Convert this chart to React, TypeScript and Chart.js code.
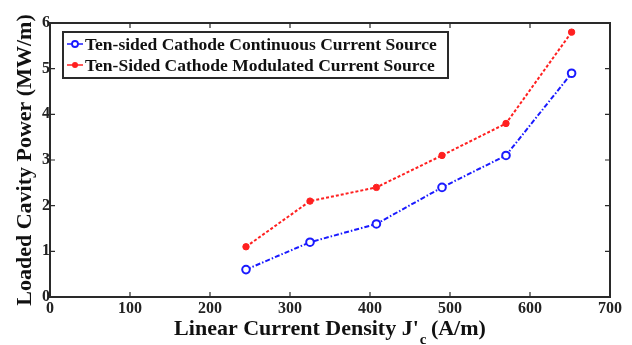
import React, { useEffect, useRef } from "react";
import { Chart, registerables } from "chart.js";

Chart.register(...registerables);

const currentDensity = [245, 325, 408, 490, 570, 652];
const continuousPower = [0.6, 1.2, 1.6, 2.4, 3.1, 4.9];
const modulatedPower = [1.1, 2.1, 2.4, 3.1, 3.8, 5.8];
const seriesNames = [
  "Ten-sided Cathode Continuous Current Source",
  "Ten-Sided Cathode Modulated Current Source",
];
const xTicks = [0, 100, 200, 300, 400, 500, 600, 700];
const yTicks = [0, 1, 2, 3, 4, 5, 6];
const yTitle = "Loaded Cavity Power (MW/m)";
const xTitleMain = "Linear Current Density J'";
const xTitleSub = "c";
const xTitleEnd = " (A/m)";

const SERIF = "'Liberation Serif', 'Times New Roman', serif";

const framePlugin = {
  id: "frame",
  afterDraw(chart: any) {
    const { ctx, chartArea: a, scales } = chart;
    const xs = scales.x;
    const ys = scales.y;
    ctx.save();
    ctx.strokeStyle = "#2a2a2a";
    ctx.lineWidth = 2;
    ctx.strokeRect(a.left, a.top, a.right - a.left, a.bottom - a.top);
    ctx.lineWidth = 1.2;
    const tl = 5;
    xTicks.forEach((v) => {
      const px = xs.getPixelForValue(v);
      ctx.beginPath();
      ctx.moveTo(px, a.bottom);
      ctx.lineTo(px, a.bottom - tl);
      ctx.moveTo(px, a.top);
      ctx.lineTo(px, a.top + tl);
      ctx.stroke();
    });
    yTicks.forEach((v) => {
      const py = ys.getPixelForValue(v);
      ctx.beginPath();
      ctx.moveTo(a.left, py);
      ctx.lineTo(a.left + tl, py);
      ctx.moveTo(a.right, py);
      ctx.lineTo(a.right - tl, py);
      ctx.stroke();
    });

    // x title with subscript
    ctx.fillStyle = "#111";
    ctx.textBaseline = "alphabetic";
    const big = `bold 22px ${SERIF}`;
    const small = `bold 15px ${SERIF}`;
    ctx.font = big;
    const w1 = ctx.measureText(xTitleMain).width;
    const w3 = ctx.measureText(xTitleEnd).width;
    ctx.font = small;
    const w2 = ctx.measureText(xTitleSub).width;
    const total = w1 + w2 + w3;
    const cx = (a.left + a.right) / 2;
    const x0 = cx - total / 2;
    const base = 335;
    ctx.textAlign = "left";
    ctx.font = big;
    ctx.fillText(xTitleMain, x0, base);
    ctx.font = small;
    ctx.fillText(xTitleSub, x0 + w1 + 1, base + 9);
    ctx.font = big;
    ctx.fillText(xTitleEnd, x0 + w1 + w2, base);

    // legend
    const lx = 63, ly = 32, lw = 385, lh = 46;
    ctx.fillStyle = "#fff";
    ctx.fillRect(lx, ly, lw, lh);
    ctx.strokeStyle = "#2a2a2a";
    ctx.lineWidth = 2;
    ctx.strokeRect(lx, ly, lw, lh);
    const colors = ["#1a1aff", "#ff2020"];
    const rows = [44, 65];
    ctx.font = `bold 17.5px ${SERIF}`;
    ctx.textBaseline = "middle";
    rows.forEach((ry, i) => {
      ctx.strokeStyle = colors[i];
      ctx.lineWidth = 1.5;
      ctx.beginPath();
      ctx.moveTo(67, ry);
      ctx.lineTo(83, ry);
      ctx.stroke();
      ctx.beginPath();
      ctx.arc(75, ry, 3, 0, Math.PI * 2);
      if (i === 0) {
        ctx.lineWidth = 1.8;
        ctx.fillStyle = "#fff";
        ctx.fill();
        ctx.stroke();
      } else {
        ctx.fillStyle = colors[i];
        ctx.fill();
      }
      ctx.fillStyle = "#111";
      ctx.fillText(seriesNames[i], 85, ry + 1);
    });
    ctx.restore();
  },
};

export default function App() {
  const ref = useRef<HTMLCanvasElement | null>(null);
  useEffect(() => {
    if (!ref.current) return;
    const chart = new Chart(ref.current, {
      type: "line",
      data: {
        datasets: [
          {
            label: seriesNames[0],
            data: currentDensity.map((x, i) => ({ x, y: continuousPower[i] })),
            borderColor: "#1a1aff",
            backgroundColor: "#ffffff",
            borderWidth: 2,
            borderDash: [5, 2, 1.5, 2],
            pointStyle: "circle",
            pointRadius: 3.8,
            pointBorderWidth: 2,
            pointBorderColor: "#1a1aff",
            pointBackgroundColor: "#ffffff",
            tension: 0,
          },
          {
            label: seriesNames[1],
            data: currentDensity.map((x, i) => ({ x, y: modulatedPower[i] })),
            borderColor: "#ff2020",
            backgroundColor: "#ff2020",
            borderWidth: 2,
            borderDash: [3, 2],
            pointStyle: "circle",
            pointRadius: 3.2,
            pointBorderWidth: 1,
            pointBorderColor: "#ff2020",
            pointBackgroundColor: "#ff2020",
            tension: 0,
          },
        ],
      },
      options: {
        animation: false,
        responsive: false,
        maintainAspectRatio: false,
        layout: { padding: { top: 23, right: 22, left: 0, bottom: 0 } },
        plugins: {
          legend: { display: false },
          tooltip: { enabled: false },
        },
        scales: {
          x: {
            type: "linear",
            min: 0,
            max: 700,
            grid: { display: false, drawTicks: false },
            border: { display: false },
            afterBuildTicks: (s: any) => {
              s.ticks = xTicks.map((v) => ({ value: v }));
            },
            afterFit: (s: any) => {
              s.height = 48;
            },
            ticks: {
              padding: 2,
              color: "#222",
              font: { family: SERIF, size: 16, weight: "bold" },
              maxRotation: 0,
            },
          },
          y: {
            type: "linear",
            min: 0,
            max: 6,
            grid: { display: false, drawTicks: false },
            border: { display: false },
            afterBuildTicks: (s: any) => {
              s.ticks = yTicks.map((v) => ({ value: v }));
            },
            afterFit: (s: any) => {
              s.width = 50;
            },
            title: {
              display: true,
              text: yTitle,
              color: "#111",
              font: { family: SERIF, size: 22, weight: "bold" },
              padding: { top: 12, bottom: 0 },
            },
            ticks: {
              padding: 0,
              color: "#222",
              font: { family: SERIF, size: 16, weight: "bold" },
            },
          },
        },
      },
      plugins: [framePlugin],
    });
    return () => chart.destroy();
  }, []);
  return (
    <div style={{ position: "absolute", left: 0, top: 0, width: 632, height: 345, background: "#fff" }}>
      <canvas ref={ref} width={632} height={345} style={{ width: 632, height: 345 }} />
    </div>
  );
}
